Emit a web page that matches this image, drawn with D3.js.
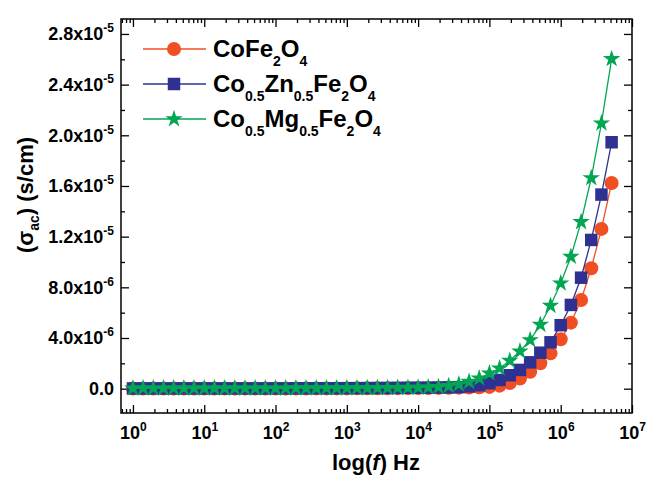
<!DOCTYPE html>
<html>
<head>
<meta charset="utf-8">
<script src="https://cdn.jsdelivr.net/npm/d3@7"></script>
<style>
    body { margin: 0; background: #fff; }
    svg { display: block; font-family: "Liberation Sans", Arial, sans-serif; font-weight: bold; }
</style>
</head>
<body>
<svg width="646" height="477"></svg>
<script>
// Частоты (Гц) и проводимость в единицах 1e-6 S/cm
const freq = [
    1, 1.389, 1.931, 2.683, 3.728, 5.179, 7.197,
    10, 13.89, 19.31, 26.83, 37.28, 51.79, 71.97,
    100, 138.9, 193.1, 268.3, 372.8, 517.9, 719.7,
    1000, 1389, 1931, 2683, 3728, 5179, 7197,
    10000, 13890, 19310, 26830, 37280, 51790, 71970,
    100000, 138900, 193100, 268300, 372800, 517900, 719700,
    1000000, 1389000, 1931000, 2683000, 3728000, 5179000
];

const sigmaCoFe = [
    0.01, 0.01, 0.01, 0.01, 0.01, 0.01, 0.01, 0.01, 0.01, 0.01,
    0.01, 0.01, 0.01, 0.01, 0.01, 0.01, 0.015, 0.015, 0.02, 0.02,
    0.02, 0.02, 0.025, 0.03, 0.03, 0.035, 0.04, 0.045, 0.05, 0.055,
    0.06, 0.07, 0.08, 0.09, 0.11, 0.14, 0.24, 0.45, 0.80, 1.34,
    2.01, 2.79, 3.90, 5.21, 7.00, 9.51, 12.61, 16.24
];

const sigmaCoZn = [
    0.02, 0.02, 0.02, 0.02, 0.02, 0.02, 0.02, 0.02, 0.02, 0.02,
    0.02, 0.02, 0.02, 0.02, 0.025, 0.025, 0.03, 0.03, 0.03, 0.035,
    0.035, 0.04, 0.04, 0.045, 0.05, 0.055, 0.06, 0.065, 0.07, 0.08,
    0.09, 0.10, 0.12, 0.18, 0.27, 0.43, 0.69, 1.06, 1.48, 2.08,
    2.84, 3.66, 5.01, 6.61, 8.76, 11.74, 15.32, 19.45
];

const sigmaCoMg = [
    0.03, 0.03, 0.03, 0.03, 0.03, 0.03, 0.03, 0.03, 0.03, 0.03,
    0.03, 0.03, 0.03, 0.035, 0.035, 0.035, 0.04, 0.04, 0.04, 0.045,
    0.045, 0.05, 0.05, 0.055, 0.06, 0.065, 0.07, 0.08, 0.09, 0.11,
    0.14, 0.22, 0.35, 0.55, 0.82, 1.22, 1.61, 2.21, 2.95, 3.84,
    5.05, 6.55, 8.32, 10.42, 13.16, 16.63, 20.95, 26.03
];

const xMajor = [1, 10, 100, 1000, 10000, 100000, 1000000, 10000000];
const yMajor = [0, 4, 8, 12, 16, 20, 24, 28];
const yMinor = [2, 6, 10, 14, 18, 22, 26];

// подписи легенды: [текст, индекс?]
const legendLabels = [
    [["CoFe", false], ["2", true], ["O", false], ["4", true]],
    [["Co", false], ["0.5", true], ["Zn", false], ["0.5", true], ["Fe", false], ["2", true], ["O", false], ["4", true]],
    [["Co", false], ["0.5", true], ["Mg", false], ["0.5", true], ["Fe", false], ["2", true], ["O", false], ["4", true]]
];

const series = [
    { values: sigmaCoFe, color: "#f04e23", marker: "circle" },
    { values: sigmaCoZn, color: "#2e3192", marker: "square" },
    { values: sigmaCoMg, color: "#00a651", marker: "star" }
];

const area = { left: 121, right: 632, top: 19, bottom: 413 };
const svg = d3.select("svg");

const scaleX = d3.scaleLog()
    .domain([0.68, 1e7])
    .range([area.left, area.right]);

const scaleY = d3.scaleLinear()
    .domain([-1.92, 29.18])
    .range([area.bottom, area.top]);

// малые деления логарифмической оси
let xMinor = [];
for (let e = -1; e <= 6; e++) {
    for (let m = 2; m <= 9; m++) {
        const v = m * Math.pow(10, e);
        if (v > scaleX.domain()[0] && v < scaleX.domain()[1]) xMinor.push(v);
    }
}

function styleAxis(g) {
    g.select(".domain").remove();
    g.selectAll(".tick line").attr("stroke", "#000").attr("stroke-width", 1.3);
}

// нижняя ось
svg.append("g")
    .attr("transform", `translate(0, ${area.bottom})`)
    .call(d3.axisBottom(scaleX).tickValues(xMinor).tickSize(-4).tickFormat(""))
    .call(styleAxis);

const axisXg = svg.append("g")
    .attr("transform", `translate(0, ${area.bottom})`)
    .call(d3.axisBottom(scaleX).tickValues(xMajor).tickSize(-8).tickPadding(13).tickFormat(() => "10"))
    .call(styleAxis);

axisXg.selectAll(".tick text")
    .attr("fill", "#000")
    .style("font-size", "18px")
    .style("font-family", "'Liberation Sans', Arial, sans-serif")
    .style("font-weight", "bold")
    .append("tspan")
    .attr("dy", -8)
    .style("font-size", "12px")
    .text(d => Math.round(Math.log10(d)));

// верхняя ось
svg.append("g")
    .attr("transform", `translate(0, ${area.top})`)
    .call(d3.axisTop(scaleX).tickValues(xMinor).tickSize(-4).tickFormat(""))
    .call(styleAxis);
svg.append("g")
    .attr("transform", `translate(0, ${area.top})`)
    .call(d3.axisTop(scaleX).tickValues(xMajor).tickSize(-8).tickFormat(""))
    .call(styleAxis);

// левая ось
function yLabel(v) {
    if (v === 0) return ["0.0", ""];
    if (v < 10) return [v.toFixed(1) + "x10", "-6"];
    return [(v / 10).toFixed(1) + "x10", "-5"];
}

svg.append("g")
    .attr("transform", `translate(${area.left}, 0)`)
    .call(d3.axisLeft(scaleY).tickValues(yMinor).tickSize(-4).tickFormat(""))
    .call(styleAxis);

const axisYg = svg.append("g")
    .attr("transform", `translate(${area.left}, 0)`)
    .call(d3.axisLeft(scaleY).tickValues(yMajor).tickSize(-8).tickPadding(7).tickFormat(d => yLabel(d)[0]))
    .call(styleAxis);

axisYg.selectAll(".tick text")
    .attr("fill", "#000")
    .style("font-size", "18px")
    .style("font-family", "'Liberation Sans', Arial, sans-serif")
    .style("font-weight", "bold")
    .each(function (d) {
        const sup = yLabel(d)[1];
        if (sup) {
            d3.select(this).append("tspan")
                .attr("dy", -8)
                .style("font-size", "12px")
                .text(sup);
        }
    });

// правая ось
svg.append("g")
    .attr("transform", `translate(${area.right}, 0)`)
    .call(d3.axisRight(scaleY).tickValues(yMinor).tickSize(-4).tickFormat(""))
    .call(styleAxis);
svg.append("g")
    .attr("transform", `translate(${area.right}, 0)`)
    .call(d3.axisRight(scaleY).tickValues(yMajor).tickSize(-8).tickFormat(""))
    .call(styleAxis);

// рамка
svg.append("rect")
    .attr("x", area.left)
    .attr("y", area.top)
    .attr("width", area.right - area.left)
    .attr("height", area.bottom - area.top)
    .attr("fill", "none")
    .attr("stroke", "#000")
    .attr("stroke-width", 1.5);

// маркеры
function drawMarker(g, type, color) {
    if (type === "circle") {
        g.append("circle").attr("r", 7).attr("fill", color);
    } else if (type === "square") {
        g.append("path").attr("d", d3.symbol(d3.symbolSquare, 156)()).attr("fill", color);
    } else {
        g.append("path").attr("d", d3.symbol(d3.symbolStar, 95)()).attr("fill", color);
    }
}

const plot = svg.append("g");

series.forEach(s => {
    const pts = freq.map((f, i) => ({ f: f, v: s.values[i] }));

    const line = d3.line()
        .x(d => scaleX(d.f))
        .y(d => scaleY(d.v));

    plot.append("path")
        .datum(pts)
        .attr("fill", "none")
        .attr("stroke", s.color)
        .attr("stroke-width", 1.3)
        .attr("d", line);

    plot.selectAll(null)
        .data(pts)
        .enter()
        .append("g")
        .attr("transform", d => `translate(${scaleX(d.f)}, ${scaleY(d.v)})`)
        .each(function () { drawMarker(d3.select(this), s.marker, s.color); });
});

// легенда
const legend = svg.append("g").attr("transform", "translate(143, 49)");

series.forEach((s, i) => {
    const row = legend.append("g").attr("transform", `translate(0, ${i * 35})`);
    row.append("line")
        .attr("x1", 0).attr("x2", 63)
        .attr("stroke", s.color).attr("stroke-width", 1.3);
    const m = row.append("g").attr("transform", "translate(31, 0)");
    drawMarker(m, s.marker, s.color);

    const text = row.append("text")
        .attr("x", 70)
        .attr("y", 8)
        .style("font-size", "24px");
    let inSub = false;
    legendLabels[i].forEach(part => {
        const t = text.append("tspan").text(part[0]);
        if (part[1]) {
            t.style("font-size", "14px").attr("dy", inSub ? 0 : 9);
            inSub = true;
        } else {
            if (inSub) t.attr("dy", -9);
            inSub = false;
        }
    });
});

// подписи осей
const titleX = svg.append("text")
    .attr("x", 376)
    .attr("y", 470)
    .attr("text-anchor", "middle")
    .style("font-size", "22px");
titleX.append("tspan").text("log(");
titleX.append("tspan").style("font-style", "italic").text("f");
titleX.append("tspan").text(") Hz");

const titleY = svg.append("text")
    .attr("transform", "translate(33, 195) rotate(-90)")
    .attr("text-anchor", "middle")
    .style("font-size", "22px");
titleY.append("tspan").text("(\u03c3");
titleY.append("tspan").style("font-size", "14px").attr("dy", 6).text("ac");
titleY.append("tspan").attr("dy", -6).text(") (s/cm)");
</script>
</body>
</html>
